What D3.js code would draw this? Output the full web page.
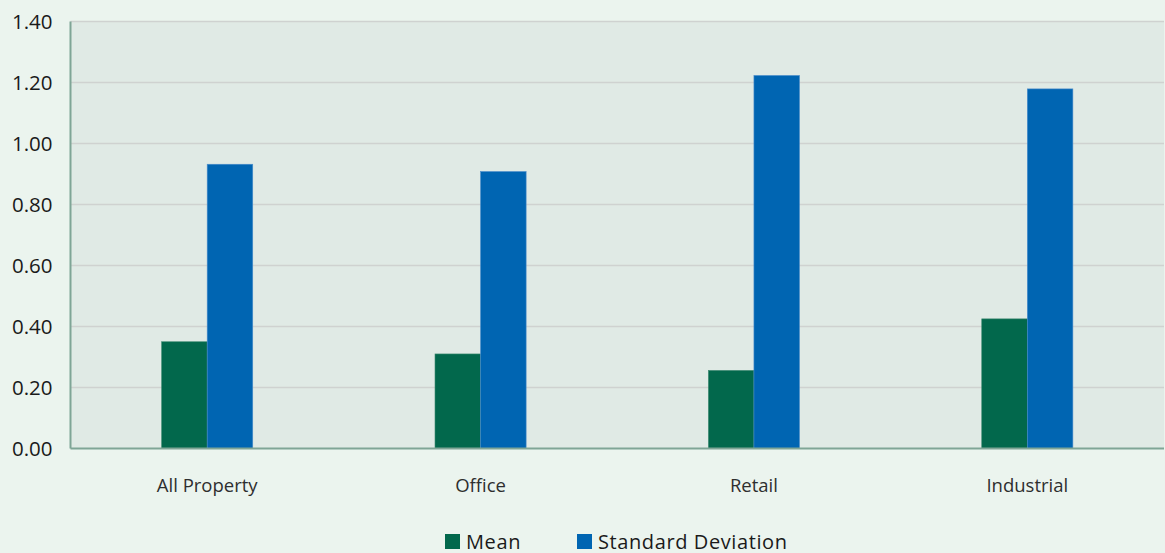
<!DOCTYPE html>
<html>
<head>
<meta charset="utf-8">
<script src="https://cdn.jsdelivr.net/npm/d3@7"></script>
<style>
  html, body { margin: 0; padding: 0; background: #ebf4ee; }
  svg { display: block; }
  text { font-family: "Open Sans", "Noto Sans", sans-serif; }
</style>
</head>
<body>
<svg id="chart" width="1165" height="553"></svg>
<script>
// Property return statistics by sector
const categories = ["All Property", "Office", "Retail", "Industrial"];
const seriesNames = ["Mean", "Standard Deviation"];
const meanValues = [0.35, 0.31, 0.256, 0.425];
const sdValues = [0.932, 0.908, 1.223, 1.179];
const yTicks = [0, 0.2, 0.4, 0.6, 0.8, 1.0, 1.2, 1.4];
const seriesColors = ["#02684c", "#0065b2"];

const rows = categories.map((c, i) => ({ category: c, values: [meanValues[i], sdValues[i]] }));

const svg = d3.select("#chart");
const margin = { top: 21.5, right: 1, bottom: 104.5, left: 70.5 };
const W = 1165, H = 553;
const innerW = W - margin.left - margin.right;
const innerH = H - margin.top - margin.bottom;

const g = svg.append("g").attr("transform", `translate(${margin.left},${margin.top})`);

const x0 = d3.scaleBand().domain(categories).range([0, innerW])
  .paddingInner(2 / 3).paddingOuter(1 / 3);
const x1 = d3.scaleBand().domain(seriesNames).range([0, x0.bandwidth()]);
const y = d3.scaleLinear().domain([0, 1.4]).range([innerH, 0]);

// plot background
g.append("rect").attr("x", 0).attr("y", 0).attr("width", innerW).attr("height", innerH)
  .attr("fill", "#e0eae5");

// gridlines
g.append("g").selectAll("line").data(yTicks.filter(t => t > 0)).join("line")
  .attr("x1", 0).attr("x2", innerW)
  .attr("y1", d => y(d)).attr("y2", d => y(d))
  .attr("stroke", "#cfd2d0").attr("stroke-width", 1.5);

// bars
const groups = g.append("g").selectAll("g").data(rows).join("g")
  .attr("transform", d => `translate(${x0(d.category)},0)`);
groups.selectAll("rect").data(d => d.values.map((v, i) => ({ key: seriesNames[i], value: v, i })))
  .join("rect")
  .attr("x", d => x1(d.key))
  .attr("y", d => y(d.value))
  .attr("width", x1.bandwidth())
  .attr("height", d => y(0) - y(d.value))
  .attr("fill", d => seriesColors[d.i])
  .attr("stroke", d => d.i === 0 ? "#3f8a72" : "#4a8ccb")
  .attr("stroke-width", 0.6);

// axis lines
g.append("line").attr("x1", 0).attr("x2", 0).attr("y1", 0).attr("y2", innerH)
  .attr("stroke", "#7fa596").attr("stroke-width", 2);
g.append("line").attr("x1", 0).attr("x2", innerW).attr("y1", innerH).attr("y2", innerH)
  .attr("stroke", "#7fa596").attr("stroke-width", 2);

// y axis labels
const yAxis = d3.axisLeft(y).tickValues(yTicks).tickFormat(d3.format(".2f")).tickSize(0).tickPadding(18);
const ya = g.append("g").call(yAxis);
ya.select(".domain").remove();
ya.selectAll("text").attr("font-size", 20.5).attr("fill", "#1a1a1a")
  .attr("font-family", "'Open Sans', sans-serif");

// x axis labels
const xAxis = d3.axisBottom(x0).tickSize(0).tickPadding(30);
const xa = g.append("g").attr("transform", `translate(0,${innerH})`).call(xAxis);
xa.select(".domain").remove();
xa.selectAll("text").attr("font-size", 18.5).attr("fill", "#2e2e2e")
  .attr("font-family", "'Open Sans', sans-serif");

// legend
const legend = svg.append("g");
const legendX = [445, 577];
seriesNames.forEach((name, i) => {
  const lg = legend.append("g").attr("transform", `translate(${legendX[i]},534)`);
  lg.append("rect").attr("width", 15).attr("height", 15).attr("fill", seriesColors[i]);
  lg.append("text").attr("x", 21).attr("y", 14.5).attr("font-size", 20)
    .attr("letter-spacing", 0.6).attr("fill", "#1a1a1a")
    .text(name);
});
</script>
</body>
</html>
